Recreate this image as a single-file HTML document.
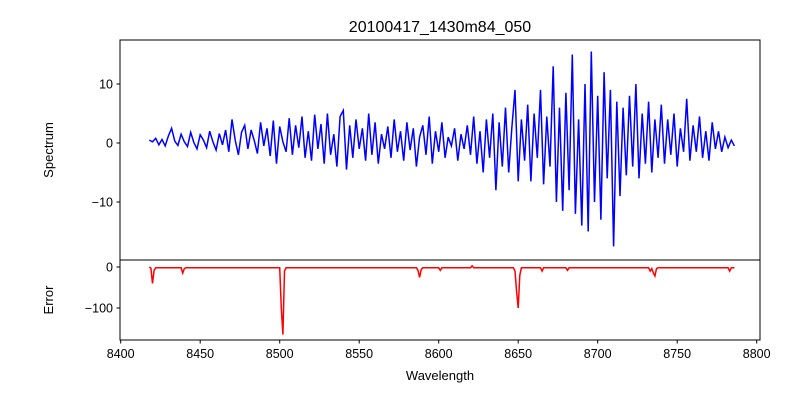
<!DOCTYPE html>
<html><head><meta charset="utf-8"><style>
body{margin:0;background:#fff}
svg{font-family:"Liberation Sans","DejaVu Sans",sans-serif}
</style></head><body>
<svg id="chart" width="800" height="400" xmlns="http://www.w3.org/2000/svg"></svg>
<script>
const specStart = 8418;
const specStep = 2;
const specValues = [
0.5,0.2,0.8,-0.3,0.6,-0.5,1.2,2.5,0.3,-0.4,
1.5,0.2,-0.6,1.8,0.1,-1.0,1.4,0.5,-0.8,2.0,
0.2,-1.2,1.6,-0.3,2.2,-1.5,4.0,0.5,-2.0,1.8,
3.0,-1.0,2.2,0.4,-1.8,3.5,-0.5,2.5,-2.2,3.8,
-3.5,2.8,0.2,-1.5,4.2,-2.0,3.0,-0.8,4.5,-2.5,
2.0,-3.0,4.8,-1.0,3.2,-3.5,5.0,-2.0,1.5,-4.0,
4.5,5.5,-4.5,3.0,-2.5,4.0,-1.0,2.5,-3.0,5.0,
-2.0,3.5,-3.5,1.5,-1.0,2.8,-2.5,4.0,-1.5,2.0,
-3.0,3.5,-1.2,2.5,-4.0,1.0,3.0,-2.0,4.5,-3.5,
2.0,-1.5,3.5,-2.5,1.0,-0.5,2.5,-3.0,1.5,-1.0,
3.0,-2.0,4.5,-3.5,2.0,-5.0,4.0,-2.5,5.0,-8.0,
3.5,-4.0,6.0,-5.0,2.5,9.0,-6.5,4.0,-3.0,6.5,
-6.5,5.0,-2.5,9.0,-7.0,4.5,-4.0,13.0,-10.0,6.0,
-11.5,8.5,-8.0,15.0,-12.0,4.0,-14.0,10.0,-15.0,15.5,
-10.0,8.0,-13.0,12.0,-6.0,9.0,-17.5,7.0,-9.0,6.0,
-5.5,8.0,-4.0,10.0,-6.0,5.0,-3.5,7.0,-5.0,4.0,
-2.5,6.5,-3.5,4.0,-2.0,5.0,-4.0,2.5,-1.5,7.5,
-3.0,3.0,-1.5,4.5,-2.5,2.0,-3.0,3.5,-1.0,2.0,
-1.5,1.0,-0.8,0.5,-0.5];
const errWave = [8418,8419,8420,8421,8422,8438,8439,8440,8441,8460,8500,8501,8502,8503,8504,8540,8586,8587,8588,8589,8590,8600,8601,8602,8620,8621,8622,8647,8648,8649,8650,8651,8652,8664,8665,8666,8680,8681,8682,8720,8732,8733,8734,8735,8736,8737,8738,8782,8783,8784,8786];
const errVal  = [0,-3,-40,-8,-2,-2,-15,-4,-2,-2,-2,-100,-165,-10,-2,-2,-2,-8,-25,-6,-2,-2,-8,-2,-2,3,-2,-2,-10,-60,-100,-20,-2,-2,-10,-2,-2,-8,-2,-2,-2,-10,-4,-15,-22,-4,-2,-2,-10,-2,-2];
const xTicks = [8400,8450,8500,8550,8600,8650,8700,8750,8800];
const yTicksTop = [-10,0,10];
const yTicksBot = [-100,0];

const NS="http://www.w3.org/2000/svg";
const svg=document.getElementById('chart');
function mk(t,a,p){const e=document.createElementNS(NS,t);for(const k in a)e.setAttribute(k,a[k]);(p||svg).appendChild(e);return e;}
const X0=120;
const xs=v=>120.7+(v-8400)*1.59;
const yTop=v=>143-v*5.9;
const yBot=v=>267-v*0.41;

const defs=mk('defs',{});
const c1=mk('clipPath',{id:'c1'},defs);mk('rect',{x:X0,y:40,width:640,height:220},c1);
const c2=mk('clipPath',{id:'c2'},defs);mk('rect',{x:X0,y:260,width:640,height:80},c2);

let d='';
specValues.forEach((v,i)=>{d+=(i?'L':'M')+xs(specStart+i*specStep).toFixed(1)+','+yTop(v).toFixed(1);});
const sl=mk('path',{d:d,fill:'none',stroke:'#0000ff','stroke-width':1.5,'clip-path':'url(#c1)'});



d='';
errWave.forEach((w,i)=>{d+=(i?'L':'M')+xs(w).toFixed(1)+','+yBot(errVal[i]).toFixed(1);});
const el=mk('path',{d:d,fill:'none',stroke:'#ff0000','stroke-width':1.5,'clip-path':'url(#c2)'});



const f1=mk('rect',{x:X0,y:40,width:640,height:220,fill:'none',stroke:'#000','stroke-width':1});


const f2=mk('rect',{x:X0,y:260,width:640,height:80,fill:'none',stroke:'#000','stroke-width':1});



xTicks.forEach(t=>{const x=xs(t);
 mk('line',{x1:x,x2:x,y1:340,y2:343.5,stroke:'#000'});
 const tx=mk('text',{x:x,y:358,'font-size':12.5,'text-anchor':'middle'});tx.textContent=t;
 
 
});
yTicksTop.forEach(t=>{const y=yTop(t);
 mk('line',{x1:X0-3.5,x2:X0,y1:y,y2:y,stroke:'#000'});
 const tx=mk('text',{x:X0-7,y:y+4.5,'font-size':12.5,'text-anchor':'end'});tx.textContent=t<0?'\u2212'+(-t):t;
 
 
});
yTicksBot.forEach(t=>{const y=yBot(t);
 mk('line',{x1:X0-3.5,x2:X0,y1:y,y2:y,stroke:'#000'});
 const tx=mk('text',{x:X0-7,y:y+4.5,'font-size':12.5,'text-anchor':'end'});tx.textContent=t<0?'\u2212'+(-t):t;
 
 
});
const ti=mk('text',{x:440,y:32,'font-size':16,'text-anchor':'middle'});ti.textContent='20100417_1430m84_050';


const xl=mk('text',{x:440,y:380,'font-size':13,'text-anchor':'middle'});xl.textContent='Wavelength';


const yl=mk('text',{x:0,y:0,'font-size':13,'text-anchor':'middle',transform:'translate(53,150) rotate(-90)'});yl.textContent='Spectrum';


const yl2=mk('text',{x:0,y:0,'font-size':13,'text-anchor':'middle',transform:'translate(53,300) rotate(-90)'});yl2.textContent='Error';


</script>
</body></html>
